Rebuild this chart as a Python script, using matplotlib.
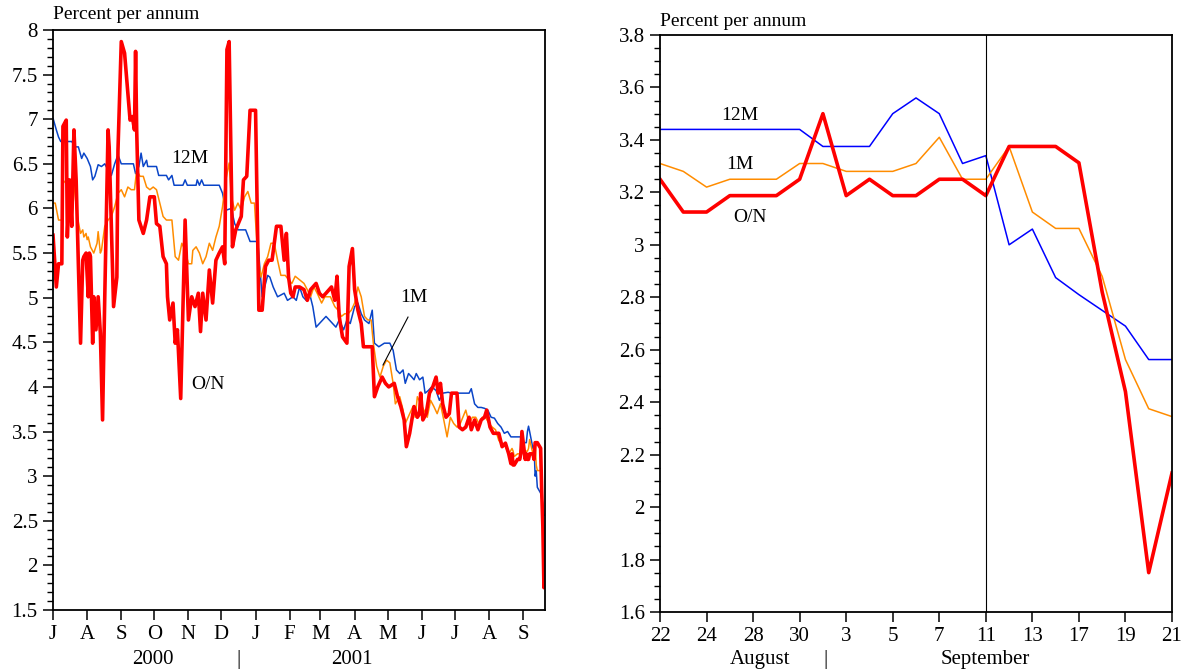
import numpy as np
import pandas as pd
import matplotlib
matplotlib.use("Agg")
import matplotlib.pyplot as plt
import matplotlib.dates as mdates
from matplotlib.ticker import MultipleLocator, FuncFormatter

plt.rcParams["font.family"] = ["Liberation Serif", "DejaVu Serif"]

# ---- Left panel: readings as days since 1 July 2000 (up to 21 Aug 2001) ----
on_days = [0, 3, 5, 8, 9, 12, 13, 15, 17, 19, 21, 23, 25, 27, 28, 30, 32, 33, 34, 36,
           37, 39, 41, 43, 45, 47, 50, 51, 55, 58, 59, 62, 65, 70, 72, 74, 75, 76, 78, 82,
           85, 88, 92, 94, 97, 100, 103, 104, 106, 109, 111, 113, 116, 120, 123, 126, 129, 132, 134, 136,
           139, 142, 145, 148, 151, 154, 156, 158, 160, 163, 166, 171, 173, 176, 179, 184, 187, 190, 193, 196,
           199, 203, 207, 210, 212, 214, 216, 218, 220, 224, 228, 231, 234, 239, 242, 245, 248, 253, 256, 258,
           260, 263, 267, 269, 272, 274, 277, 280, 282, 290, 292, 295, 299, 302, 305, 310, 313, 316, 319, 321,
           324, 328, 331, 333, 334, 336, 339, 342, 345, 348, 350, 352, 354, 357, 360, 362, 367, 369, 372, 375,
           378, 380, 383, 386, 389, 392, 394, 397, 400, 405, 408, 411, 414, 416]
on_vals = [5.70, 5.12, 5.38, 5.38, 6.92, 6.99, 5.68, 6.32, 5.80, 6.88, 6.32, 5.38, 4.49, 5.42, 5.46, 5.50, 5.01, 5.50, 5.46, 4.49,
           5.01, 4.64, 5.01, 4.60, 3.63, 5.01, 6.88, 6.69, 4.90, 5.23, 6.65, 7.87, 7.74, 6.99, 7.03, 6.88, 7.76, 6.88, 5.87, 5.72,
           5.87, 6.13, 6.13, 5.83, 5.80, 5.46, 5.38, 5.01, 4.75, 4.94, 4.49, 4.64, 3.87, 5.87, 4.75, 5.01, 4.90, 5.05, 4.62, 5.05,
           4.75, 5.31, 4.94, 5.42, 5.50, 5.57, 5.38, 7.78, 7.87, 5.57, 5.76, 5.91, 6.32, 6.36, 7.10, 7.10, 4.86, 4.86, 5.35, 5.42,
           5.42, 5.80, 5.80, 5.42, 5.72, 5.23, 5.05, 5.01, 5.12, 5.12, 5.09, 4.97, 5.09, 5.16, 5.05, 5.01, 5.05, 5.12, 4.97, 5.24,
           4.79, 4.56, 4.49, 5.35, 5.55, 5.09, 4.86, 4.71, 4.45, 4.45, 3.89, 4.00, 4.11, 4.04, 4.00, 4.04, 3.89, 3.78, 3.63, 3.33,
           3.48, 3.78, 3.66, 3.70, 3.93, 3.63, 3.70, 3.93, 4.00, 4.11, 3.93, 4.04, 3.81, 3.66, 3.70, 3.93, 3.93, 3.55, 3.52, 3.55,
           3.66, 3.52, 3.63, 3.52, 3.63, 3.66, 3.74, 3.55, 3.48, 3.48, 3.33, 3.37, 3.25, 3.14]

m12_days = [0, 3, 5, 7, 17, 20, 23, 26, 28, 31, 34, 36, 38, 41, 44, 47, 50, 53, 56, 59,
            62, 73, 75, 78, 80, 82, 85, 86, 94, 96, 103, 105, 108, 110, 118, 120, 122, 130, 131, 133,
            135, 137, 151, 154, 157, 162, 165, 168, 175, 179, 186, 190, 195, 197, 200, 204, 210, 213, 218, 221,
            224, 227, 230, 233, 236, 239, 242, 245, 248, 251, 254, 257, 260, 264, 267, 270, 274, 277, 280, 283,
            287, 290, 292, 296, 301, 306, 309, 312, 315, 318, 320, 323, 326, 328, 330, 333, 336, 338, 341, 344,
            348, 351, 354, 359, 362, 378, 380, 383, 386, 389, 392, 395, 398, 401, 404, 407, 410, 413, 416]
m12_vals = [7.01, 6.88, 6.80, 6.75, 6.75, 6.69, 6.69, 6.56, 6.62, 6.56, 6.47, 6.32, 6.36, 6.49, 6.47, 6.50, 6.43, 6.37, 6.50, 6.60,
            6.50, 6.50, 6.39, 6.47, 6.62, 6.47, 6.54, 6.47, 6.47, 6.37, 6.37, 6.32, 6.37, 6.26, 6.26, 6.32, 6.26, 6.26, 6.32, 6.26,
            6.32, 6.26, 6.26, 6.17, 5.98, 6.00, 5.83, 5.76, 5.76, 5.63, 5.63, 5.01, 5.25, 5.23, 5.12, 5.01, 5.05, 4.97, 5.01, 4.97,
            5.12, 5.01, 4.97, 5.05, 4.90, 4.67, 4.71, 4.75, 4.79, 4.75, 4.71, 4.67, 4.75, 4.64, 4.75, 4.71, 4.90, 4.94, 4.82, 4.75,
            4.71, 4.86, 4.49, 4.45, 4.49, 4.49, 4.41, 4.19, 4.15, 4.19, 4.04, 4.15, 4.11, 4.08, 4.15, 4.08, 4.11, 3.93, 3.96, 4.00,
            3.96, 3.85, 3.93, 3.94, 3.93, 3.93, 3.98, 3.81, 3.77, 3.77, 3.76, 3.74, 3.66, 3.65, 3.59, 3.55, 3.48, 3.50, 3.44]

m1_days = [0, 2, 5, 8, 9, 12, 14, 16, 19, 22, 25, 27, 28, 30, 31, 32, 34, 37, 40, 41,
           43, 44, 47, 50, 53, 56, 59, 62, 65, 68, 71, 74, 76, 79, 82, 85, 88, 91, 94, 97,
           100, 103, 108, 111, 114, 117, 120, 123, 126, 127, 130, 133, 136, 139, 142, 145, 148, 151, 154, 157,
           160, 162, 165, 168, 171, 174, 177, 180, 183, 186, 189, 192, 195, 198, 201, 204, 207, 211, 214, 217,
           220, 224, 228, 231, 234, 237, 240, 244, 247, 252, 256, 259, 262, 265, 268, 271, 274, 277, 280, 283,
           286, 289, 291, 294, 297, 300, 303, 306, 309, 311, 315, 318, 320, 324, 327, 329, 331, 334, 337, 340,
           343, 346, 349, 352, 355, 358, 361, 364, 367, 370, 375, 378, 381, 384, 387, 390, 393, 396, 399, 402,
           405, 408, 411, 414]
m1_vals = [6.06, 6.06, 5.87, 5.87, 6.28, 6.32, 6.28, 6.24, 6.28, 5.91, 5.72, 5.76, 5.68, 5.72, 5.65, 5.68, 5.57, 5.50, 5.61, 5.74,
           5.50, 5.53, 5.80, 5.87, 5.91, 6.02, 6.17, 6.21, 6.13, 6.24, 6.21, 6.21, 6.43, 6.36, 6.36, 6.24, 6.21, 6.24, 6.21, 6.06,
           5.91, 5.87, 5.87, 5.46, 5.42, 5.61, 5.53, 5.38, 5.38, 5.53, 5.57, 5.50, 5.38, 5.46, 5.61, 5.53, 5.68, 5.80, 6.02, 6.32,
           6.51, 6.13, 5.98, 6.06, 5.98, 6.13, 6.19, 6.06, 6.06, 5.46, 5.23, 5.38, 5.46, 5.61, 5.61, 5.42, 5.25, 5.25, 5.20, 5.16,
           5.24, 5.20, 5.16, 5.09, 5.01, 5.12, 5.05, 4.94, 5.01, 5.01, 4.90, 4.86, 4.79, 4.82, 4.82, 4.86, 4.94, 5.12, 5.01, 4.79,
           4.75, 4.75, 4.49, 4.23, 4.11, 4.23, 4.30, 4.27, 4.04, 3.81, 3.89, 3.74, 3.59, 3.70, 3.78, 3.66, 3.89, 3.81, 3.74, 3.66,
           3.85, 3.78, 3.70, 3.81, 3.63, 3.44, 3.66, 3.59, 3.55, 3.59, 3.74, 3.59, 3.66, 3.66, 3.59, 3.66, 3.66, 3.59, 3.55, 3.52,
           3.40, 3.35, 3.33, 3.25]

# ---- Right panel: business days 22 August - 21 September 2001 ----
zoom_dates = pd.bdate_range("2001-08-22", "2001-09-21")
on_zoom = [3.25, 3.125, 3.125, 3.1875, 3.1875, 3.1875, 3.25, 3.50, 3.1875, 3.25, 3.1875, 3.1875,
           3.25, 3.25, 3.1875, 3.375, 3.375, 3.375, 3.3125, 2.82, 2.44, 1.75, 2.13]
m1_zoom = [3.31, 3.28, 3.22, 3.25, 3.25, 3.25, 3.31, 3.31, 3.28, 3.28, 3.28, 3.31,
           3.41, 3.25, 3.25, 3.375, 3.125, 3.0625, 3.0625, 2.88, 2.5625, 2.375, 2.345]
m12_zoom = [3.44, 3.44, 3.44, 3.44, 3.44, 3.44, 3.44, 3.375, 3.375, 3.375, 3.50, 3.56,
            3.50, 3.31, 3.34, 3.00, 3.06, 2.875, 2.81, 2.75, 2.69, 2.5625, 2.5625]

start = pd.Timestamp("2000-07-01")
end = pd.Timestamp("2001-09-21")


def full_series(days, vals, tail):
    dates = list(start + pd.to_timedelta(days, unit="D")) + list(zoom_dates)
    return dates, list(vals) + list(tail)


RED = "#ff0000"
ORANGE = "#ff8c00"
BLUE_L = "#0a45c8"
BLUE_R = "#0000ff"

fig = plt.figure(figsize=(11.89, 6.69), dpi=100)
ax1 = fig.add_axes([0.0446, 0.0882, 0.4138, 0.867])
ax2 = fig.add_axes([0.5551, 0.0852, 0.4306, 0.8625])

# left panel
d, v = full_series(m12_days, m12_vals, m12_zoom)
ax1.plot(d, v, color=BLUE_L, lw=1.1)
d, v = full_series(m1_days, m1_vals, m1_zoom)
ax1.plot(d, v, color=ORANGE, lw=1.1)
d, v = full_series(on_days, on_vals, on_zoom)
ax1.plot(d, v, color=RED, lw=2.6)

ax1.set_xlim(start, end)
ax1.set_ylim(1.5, 8)
ax1.yaxis.set_major_locator(MultipleLocator(0.5))
ax1.yaxis.set_minor_locator(MultipleLocator(0.1))
ax1.yaxis.set_major_formatter(FuncFormatter(lambda y, p: f"{y:g}"))
ax1.xaxis.set_major_locator(mdates.MonthLocator())
ax1.xaxis.set_major_formatter(
    FuncFormatter(lambda x, p: mdates.num2date(x).strftime("%b")[0]))

ax1.text(0.278, 0.779, "12M", transform=ax1.transAxes, ha="center", va="center", fontsize=14)
ax1.text(0.315, 0.388, "O/N", transform=ax1.transAxes, ha="center", va="center", fontsize=14)
ax1.text(0.734, 0.538, "1M", transform=ax1.transAxes, ha="center", va="center", fontsize=14)
ax1.plot([0.7215, 0.6707], [0.505, 0.4224], transform=ax1.transAxes, color="black", lw=0.8)

# right panel
x = np.arange(len(zoom_dates))
ax2.plot(x, m12_zoom, color=BLUE_R, lw=1.1)
ax2.plot(x, m1_zoom, color=ORANGE, lw=1.1)
ax2.plot(x, on_zoom, color=RED, lw=2.6)
ax2.axvline(14, color="black", lw=0.8)

ax2.set_xlim(0, len(zoom_dates) - 1)
ax2.set_ylim(1.6, 3.8)
ax2.yaxis.set_major_locator(MultipleLocator(0.2))
ax2.yaxis.set_minor_locator(MultipleLocator(0.05))
ax2.yaxis.set_major_formatter(FuncFormatter(lambda y, p: f"{y:g}"))
ax2.set_xticks(x[::2])
ax2.set_xticklabels([str(t.day) for t in zoom_dates[::2]])

ax2.text(0.156, 0.861, "12M", transform=ax2.transAxes, ha="center", va="center", fontsize=14)
ax2.text(0.156, 0.775, "1M", transform=ax2.transAxes, ha="center", va="center", fontsize=14)
ax2.text(0.176, 0.683, "O/N", transform=ax2.transAxes, ha="center", va="center", fontsize=14)

for ax in (ax1, ax2):
    ax.tick_params(which="major", direction="out", length=7, width=1.1, labelsize=15, pad=4)
    ax.tick_params(which="minor", direction="out", length=4, width=1.0)
    for s in ax.spines.values():
        s.set_linewidth(1.3)

fig.text(0.0446, 0.9776, "Percent per annum", ha="left", va="center", fontsize=14)
fig.text(0.555, 0.9686, "Percent per annum", ha="left", va="center", fontsize=14)

fig.text(0.1287, 0.0135, "2000", ha="center", va="center", fontsize=15)
fig.text(0.2002, 0.0135, "|", ha="center", va="center", fontsize=15)
fig.text(0.296, 0.0135, "2001", ha="center", va="center", fontsize=15)
fig.text(0.639, 0.0135, "August", ha="center", va="center", fontsize=15)
fig.text(0.694, 0.0135, "|", ha="center", va="center", fontsize=15)
fig.text(0.8284, 0.0135, "September", ha="center", va="center", fontsize=15)

fig.savefig("out.png", dpi=100)
